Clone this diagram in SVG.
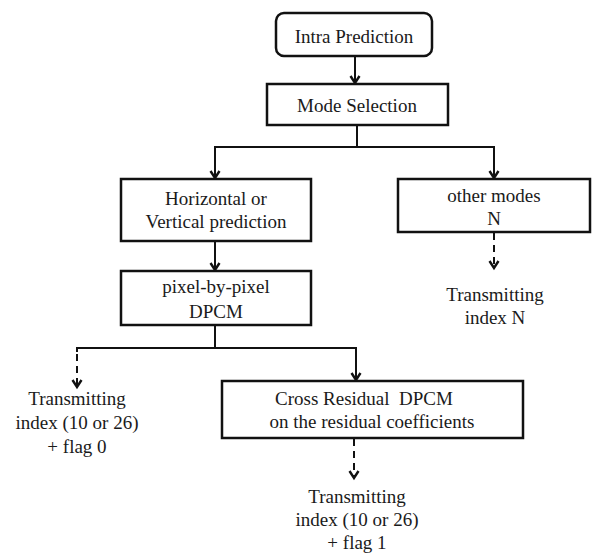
<svg xmlns="http://www.w3.org/2000/svg" width="595" height="553" viewBox="0 0 595 553">
<defs>
<style>
.box{fill:#fff;stroke:#111;stroke-width:2.5}
.t{font-family:"Liberation Serif","Times New Roman",Times,serif;font-size:19px;fill:#1a1a1a;text-anchor:middle}
.c{fill:none;stroke:#111;stroke-width:2}
.d{stroke-dasharray:7,5}
</style>
<marker id="ah" viewBox="-10 -7 12 14" refX="0" refY="0" markerWidth="12" markerHeight="14" markerUnits="userSpaceOnUse" orient="auto" overflow="visible">
<path d="M-7,-4.5 L0,0 L-7,4.5" fill="none" stroke="#111" stroke-width="2.4" stroke-linejoin="miter"/>
</marker>
</defs>
<rect width="595" height="553" fill="#fff"/>
<g id="connectors">
<line class="c" x1="355" y1="56" x2="355" y2="83" marker-end="url(#ah)"/>
<polyline class="c" points="357,125 357,147 215,147 215,178" marker-end="url(#ah)"/>
<polyline class="c" points="357,147 494,147 494,178" marker-end="url(#ah)"/>
<line class="c" x1="215" y1="241" x2="215" y2="270" marker-end="url(#ah)"/>
<polyline class="c" points="215,325 215,348 356,348 356,380" marker-end="url(#ah)"/>
<polyline class="c" points="215,348 77,348 77,352"/>
<line class="c d" x1="77" y1="354" x2="77" y2="387" marker-end="url(#ah)"/>
<line class="c d" x1="494" y1="233" x2="494" y2="268" marker-end="url(#ah)"/>
<line class="c d" x1="354" y1="439" x2="354" y2="478" marker-end="url(#ah)"/>
</g>
<g id="intra">
<rect class="box" x="276" y="13" width="156" height="43" rx="8"/>
<text class="t" x="354" y="43">Intra Prediction</text>
</g>
<g id="mode">
<rect class="box" x="267" y="84" width="181" height="41"/>
<text class="t" x="357" y="112">Mode Selection</text>
</g>
<g id="hv">
<rect class="box" x="121" y="179" width="190" height="62"/>
<text class="t" x="216" y="205">Horizontal or</text>
<text class="t" x="216" y="228">Vertical prediction</text>
</g>
<g id="other">
<rect class="box" x="398" y="179" width="192" height="53"/>
<text class="t" x="494" y="202">other modes</text>
<text class="t" x="494" y="225">N</text>
</g>
<g id="txN">
<text class="t" x="495" y="301">Transmitting</text>
<text class="t" x="495" y="324">index N</text>
</g>
<g id="pixel">
<rect class="box" x="121" y="271" width="190" height="54"/>
<text class="t" x="216" y="293">pixel-by-pixel</text>
<text class="t" x="216" y="318">DPCM</text>
</g>
<g id="tx0">
<text class="t" x="77" y="405">Transmitting</text>
<text class="t" x="77" y="429">index (10 or 26)</text>
<text class="t" x="77" y="453">+ flag 0</text>
</g>
<g id="cross">
<rect class="box" x="222" y="381" width="301" height="57"/>
<text class="t" x="364" y="405" xml:space="preserve" style="white-space:pre">Cross Residual  DPCM</text>
<text class="t" x="372" y="428">on the residual coefficients</text>
</g>
<g id="tx1">
<text class="t" x="357" y="503">Transmitting</text>
<text class="t" x="357" y="526">index (10 or 26)</text>
<text class="t" x="357" y="549">+ flag 1</text>
</g>
</svg>
